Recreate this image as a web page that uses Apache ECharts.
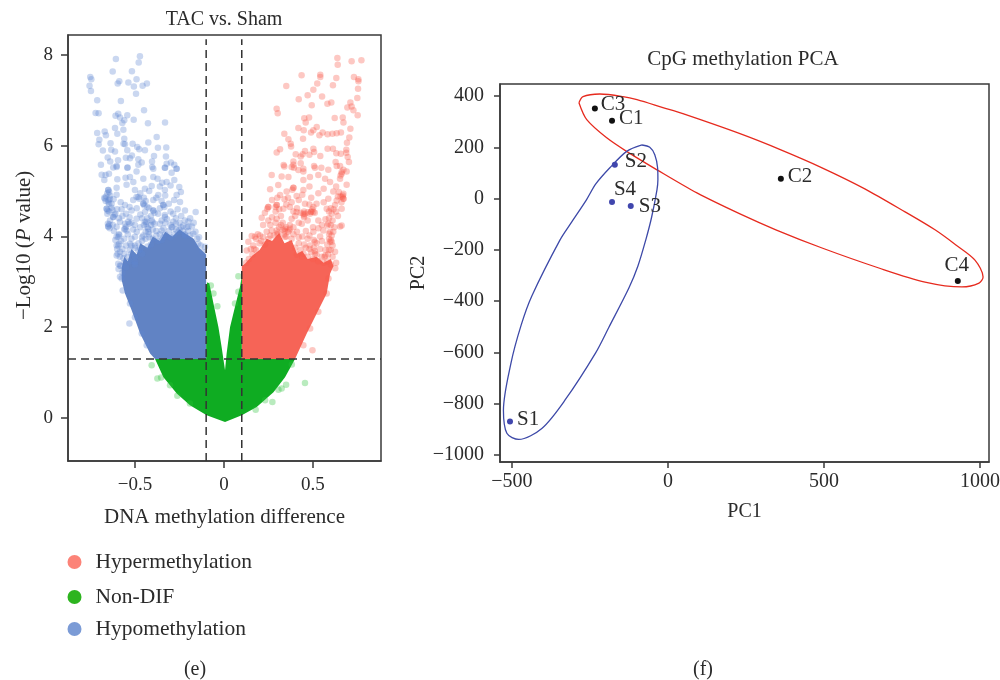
<!DOCTYPE html>
<html><head><meta charset="utf-8">
<style>html,body{margin:0;padding:0;background:#fff}#c{width:1000px;height:680px}</style>
<script src="https://cdn.jsdelivr.net/npm/echarts@6/dist/echarts.min.js"></script>
</head><body><div id="c"></div>
<script>
const volcanoXTicks=[-0.5,0,0.5];
const volcanoYTicks=[0,2,4,6,8];
const pcaXTicks=[-500,0,500,1000];
const pcaYTicks=[-1000,-800,-600,-400,-200,0,200,400];
const diffThresholds=[-0.1,0.1];
const pThreshold=1.3;

const hypoOutline=[[-0.1,1.3],[-0.387,1.3],[-0.415,1.42],[-0.471,1.86],[-0.518,2.37],[-0.556,2.74],[-0.574,3.03],[-0.575,3.3],[-0.56,3.55],[-0.54,3.45],[-0.52,3.72],[-0.49,3.6],[-0.47,3.85],[-0.43,3.75],[-0.4,4.0],[-0.36,3.9],[-0.33,4.1],[-0.29,4.0],[-0.25,4.15],[-0.21,4.05],[-0.17,3.95],[-0.14,3.75],[-0.1,3.6]];
const hyperOutline=[[0.1,1.3],[0.399,1.3],[0.465,1.86],[0.521,2.3],[0.577,2.74],[0.596,3.18],[0.615,3.35],[0.6,3.5],[0.56,3.42],[0.52,3.55],[0.47,3.5],[0.44,3.68],[0.41,3.62],[0.38,3.92],[0.34,3.85],[0.31,4.08],[0.27,3.9],[0.24,3.95],[0.2,3.7],[0.16,3.58],[0.118,3.4],[0.1,3.35]];
const nonDifOutline=[[-0.387,1.3],[-0.34,0.9],[-0.265,0.54],[-0.191,0.28],[-0.097,0.06],[0.006,-0.09],[0.1,0.06],[0.184,0.24],[0.278,0.57],[0.343,0.9],[0.399,1.3],[0.1,1.3],[0.101,3.14],[0.09,2.89],[0.062,2.45],[0.034,2.0],[0.015,1.42],[0.006,1.05],[-0.013,1.56],[-0.031,2.0],[-0.059,2.52],[-0.082,2.96],[-0.093,2.99],[-0.1,2.9],[-0.1,1.3]];

const hypoPoints=[[-0.472,7.97],[-0.607,7.91],[-0.479,7.83],[-0.625,7.63],[-0.517,7.64],[-0.751,7.51],[-0.745,7.46],[-0.491,7.46],[-0.588,7.42],[-0.597,7.37],[-0.537,7.39],[-0.433,7.37],[-0.457,7.32],[-0.506,7.3],[-0.755,7.32],[-0.747,7.2],[-0.494,7.14],[-0.712,7],[-0.579,6.98],[-0.449,6.78],[-0.721,6.72],[-0.704,6.71],[-0.594,6.7],[-0.609,6.66],[-0.543,6.67],[-0.584,6.62],[-0.56,6.56],[-0.507,6.57],[-0.571,6.5],[-0.427,6.49],[-0.331,6.51],[-0.612,6.39],[-0.565,6.35],[-0.67,6.31],[-0.712,6.28],[-0.599,6.26],[-0.663,6.23],[-0.378,6.19],[-0.56,6.15],[-0.7,6.13],[-0.564,6.04],[-0.513,6.04],[-0.637,6.05],[-0.704,6.03],[-0.425,6.07],[-0.556,6.03],[-0.487,5.97],[-0.476,5.92],[-0.371,5.95],[-0.324,5.96],[-0.68,5.89],[-0.633,5.91],[-0.612,5.87],[-0.543,5.9],[-0.444,5.9],[-0.517,5.78],[-0.653,5.74],[-0.393,5.77],[-0.326,5.76],[-0.551,5.73],[-0.528,5.72],[-0.595,5.68],[-0.481,5.7],[-0.639,5.65],[-0.462,5.63],[-0.404,5.65],[-0.298,5.63],[-0.691,5.58],[-0.322,5.6],[-0.279,5.58],[-0.603,5.55],[-0.541,5.52],[-0.622,5.52],[-0.331,5.51],[-0.403,5.53],[-0.481,5.58],[-0.266,5.49],
[-0.687,5.36],[-0.665,5.35],[-0.646,5.38],[-0.603,5.53],[-0.672,5.24],[-0.599,5.26],[-0.543,5.51],[-0.491,5.43],[-0.397,5.49],[-0.332,5.51],[-0.294,5.4],[-0.266,5.49],[-0.553,5.29],[-0.528,5.31],[-0.509,5.2],[-0.547,5.14],[-0.453,5.27],[-0.397,5.31],[-0.373,5.27],[-0.347,5.18],[-0.322,5.2],[-0.279,5.24],[-0.251,5.09],[-0.242,4.98],[-0.65,5.02],[-0.603,5.07],[-0.672,4.85],[-0.641,4.83],[-0.603,4.92],[-0.5,5.02],[-0.491,4.87],[-0.444,5.05],[-0.406,5.11],[-0.332,5.02],[-0.266,4.91],[-0.369,4.91],[-0.659,4.61],[-0.631,4.72],[-0.65,4.76],[-0.556,4.69],[-0.453,4.72],[-0.397,4.8],[-0.341,4.69],[-0.247,4.76],[-0.219,4.57],[-0.159,4.54],[-0.622,4.43],[-0.584,4.32],[-0.519,4.57],[-0.444,4.54],[-0.397,4.57],[-0.332,4.47],[-0.285,4.5],[-0.65,4.22],[-0.603,4.21],[-0.556,4.28],[-0.547,4.13],[-0.491,4.39],[-0.435,4.32],[-0.35,4.35],[-0.285,4.32],[-0.229,4.24],[-0.2,4.33],[-0.603,3.99],[-0.5,3.99],[-0.425,4.17],[-0.35,4.13],[-0.219,4.02],[-0.172,4.06],[-0.603,3.8],[-0.528,3.84],[-0.453,4.02],[-0.144,3.84],[-0.107,3.77],[-0.584,3.66],[-0.481,3.69],[-0.594,3.4],[-0.575,3.07],[-0.5,3.44],
[-0.584,3.11],[-0.569,2.81],[-0.528,2.52],[-0.5,2.22],[-0.462,1.86],[-0.434,1.6],[-0.531,2.08]];
const hypoMidPoints=[[-0.655,4.95],[-0.662,4.88],[-0.648,4.8],[-0.64,4.9],[-0.632,4.63],[-0.645,4.55],[-0.655,4.5],[-0.626,4.58],[-0.61,4.5],[-0.64,4.35],[-0.652,4.28],[-0.642,4.18],[-0.618,4.12],[-0.625,4.25],[-0.59,4.05],[-0.61,3.92],[-0.578,3.9],[-0.6,3.72],[-0.57,3.72],[-0.585,3.55],[-0.565,3.52],[-0.592,3.28],[-0.56,3.42],[-0.55,4.5],[-0.53,4.42],[-0.52,4.3],[-0.54,4.05],[-0.52,3.95],[-0.51,4.15],[-0.5,4.25],[-0.49,4.1],[-0.47,4.48],[-0.46,4.4],[-0.45,4.85],[-0.44,4.78],[-0.43,4.65],[-0.42,4.62],[-0.41,4.45],[-0.43,4.4],[-0.44,4.1],[-0.42,3.98],[-0.46,3.9],[-0.48,3.85],[-0.5,3.75],[-0.52,3.62],[-0.54,3.55],[-0.5,3.55],[-0.46,3.62],[-0.43,3.78],[-0.4,3.95],[-0.38,4.02],[-0.39,4.28],[-0.37,4.5],[-0.36,4.62],[-0.35,4.78],[-0.38,4.85],[-0.33,4.9],[-0.31,4.72],[-0.3,4.55],[-0.32,4.38],[-0.34,4.18],[-0.31,4.12],[-0.29,4.2],[-0.27,4.4],[-0.26,4.6],[-0.25,4.3],[-0.24,4.45],[-0.23,4.12],[-0.21,4.2],[-0.2,4.12],[-0.19,4.02],[-0.18,4.22],[-0.16,4.1],[-0.15,3.95],[-0.14,3.98],[-0.13,3.8],[-0.12,3.66],[-0.28,4.8],[-0.27,4.15],[-0.36,4.05],[-0.6,4.6],[-0.58,4.75],[-0.57,4.45],[-0.56,4.15],[-0.56,3.95],[-0.55,3.8],[-0.53,4.65],[-0.49,4.62],[-0.47,4.2],[-0.45,4.25],[-0.4,4.15],[-0.37,3.9],[-0.35,3.92],[-0.33,4.05],[-0.3,3.98],[-0.28,4.05],[-0.25,4.15],[-0.22,4.35],[-0.19,4.4],[-0.17,4.3],[-0.58,3.35],[-0.57,3.2],[-0.55,3.32],[-0.53,3.45],[-0.5,3.38],[-0.52,3.8],[-0.47,3.72],[-0.44,3.95],[-0.41,3.82],[-0.34,3.98],[-0.26,4.1],[-0.22,4.05],[-0.645,4.72],[-0.62,4.82],[-0.59,4.4],[-0.575,4.6],[-0.51,4.8],[-0.47,4.95],[-0.42,5.0],[-0.36,5.1],[-0.3,5.12]];
const hypoDarkPoints=[[-0.65,5.02],[-0.669,4.83],[-0.659,4.61],[-0.65,4.22],[-0.622,4.43],[-0.594,3.99],[-0.481,4.87],[-0.453,4.72],[-0.397,4.57],[-0.444,4.32],[-0.406,4.35],[-0.341,4.69],[-0.538,4.32],[-0.556,4.17],[-0.594,3.8],[-0.603,3.58],[-0.584,3.36],[-0.425,4.1],[-0.332,4.43],[-0.294,4.2],[-0.645,4.98],[-0.664,4.78],[-0.654,4.57],[-0.644,4.26],[-0.615,4.47],[-0.588,4.03],[-0.476,4.83],[-0.447,4.68],[-0.39,4.52],[-0.438,4.28],[-0.4,4.31],[-0.335,4.65],[-0.532,4.28],[-0.55,4.21],[-0.588,3.84],[-0.597,3.62],[-0.43,4.2],[-0.41,4.25],[-0.38,4.12],[-0.36,4.28],[-0.33,4.3],[-0.3,4.25],[-0.27,4.28],[-0.24,4.2],[-0.2,4.22],[-0.56,3.62],[-0.53,3.7],[-0.5,3.8],[-0.46,3.98],[-0.42,4.05]];

const hyperPoints=[[0.637,7.93],[0.717,7.86],[0.772,7.88],[0.639,7.78],[0.541,7.56],[0.541,7.51],[0.436,7.55],[0.73,7.51],[0.755,7.46],[0.755,7.42],[0.524,7.37],[0.631,7.49],[0.612,7.33],[0.35,7.31],[0.753,7.25],[0.502,7.23],[0.47,7.11],[0.42,7.02],[0.551,7.08],[0.749,7.05],[0.71,6.95],[0.581,6.92],[0.603,6.95],[0.493,6.89],[0.693,6.84],[0.717,6.86],[0.727,6.78],[0.296,6.81],[0.302,6.71],[0.751,6.67],[0.622,6.61],[0.667,6.62],[0.451,6.6],[0.478,6.62],[0.459,6.51],[0.671,6.51],[0.418,6.39],[0.448,6.34],[0.521,6.41],[0.502,6.34],[0.489,6.29],[0.71,6.37],[0.554,6.29],[0.536,6.23],[0.339,6.26],[0.582,6.25],[0.609,6.26],[0.633,6.27],[0.657,6.29],[0.704,6.18],[0.362,6.14],[0.444,6.15],[0.375,6.04],[0.377,5.98],[0.691,6.06],[0.315,5.92],[0.296,5.85],[0.455,5.88],[0.502,5.93],[0.506,5.86],[0.582,5.93],[0.612,5.93],[0.687,5.91],[0.687,5.84],[0.403,5.81],[0.442,5.81],[0.431,5.76],[0.48,5.8],[0.541,5.77],[0.631,5.83],[0.656,5.82],[0.695,5.75],[0.702,5.64],[0.39,5.65],[0.39,5.58],[0.335,5.57],[0.431,5.61],[0.506,5.55],[0.547,5.51],[0.627,5.64],[0.633,5.55],[0.652,5.55],[0.393,5.51],[0.446,5.49],[0.586,5.47],[0.671,5.47],
[0.339,5.54],[0.38,5.53],[0.511,5.51],[0.418,5.46],[0.446,5.43],[0.661,5.42],[0.689,5.43],[0.268,5.35],[0.324,5.32],[0.362,5.31],[0.483,5.31],[0.53,5.35],[0.568,5.27],[0.652,5.27],[0.446,5.24],[0.596,5.2],[0.689,5.14],[0.259,5.04],[0.305,5.13],[0.352,4.99],[0.39,5.07],[0.446,5.02],[0.614,4.99],[0.671,4.94],[0.408,4.89],[0.315,4.91],[0.586,4.83],[0.671,4.83],[0.633,4.79],[0.249,4.65],[0.296,4.69],[0.334,4.61],[0.455,4.72],[0.577,4.61],[0.624,4.69],[0.408,4.54],[0.502,4.54],[0.212,4.41],[0.249,4.35],[0.296,4.39],[0.38,4.39],[0.446,4.5],[0.53,4.35],[0.605,4.5],[0.661,4.61],[0.652,4.22],[0.558,4.13],[0.343,4.17],[0.437,4.28],[0.202,4.02],[0.268,4.13],[0.502,4.1],[0.614,4.1],[0.156,4.01],[0.137,3.88],[0.128,3.69],[0.483,3.8],[0.596,3.88],[0.511,3.62],[0.624,3.66],[0.165,3.8],[0.446,3.62],
[0.587,3.07],[0.577,2.74],[0.53,2.34],[0.484,1.97],[0.446,1.6],[0.497,1.49]];
const hyperMidPoints=[[0.645,4.98],[0.655,4.88],[0.64,4.88],[0.668,4.9],[0.66,4.75],[0.6,4.62],[0.59,4.55],[0.615,4.6],[0.63,4.55],[0.64,4.45],[0.61,4.35],[0.6,4.25],[0.59,4.4],[0.62,4.2],[0.605,4.02],[0.59,3.95],[0.61,3.8],[0.6,3.7],[0.58,3.82],[0.585,3.6],[0.61,3.55],[0.63,3.42],[0.625,3.3],[0.57,3.7],[0.55,3.55],[0.53,3.45],[0.55,3.9],[0.54,4.0],[0.52,3.85],[0.505,3.75],[0.49,3.65],[0.47,3.55],[0.46,3.75],[0.47,3.95],[0.48,4.02],[0.5,4.2],[0.46,4.12],[0.44,4.0],[0.42,3.85],[0.4,3.75],[0.41,4.1],[0.39,4.2],[0.42,4.3],[0.47,4.35],[0.51,4.52],[0.49,4.55],[0.47,4.53],[0.45,4.55],[0.43,4.52],[0.41,4.62],[0.39,4.55],[0.37,4.65],[0.35,4.7],[0.38,4.75],[0.42,4.8],[0.37,4.25],[0.36,4.1],[0.35,4.0],[0.33,4.3],[0.31,4.2],[0.3,4.05],[0.32,4.45],[0.29,4.55],[0.27,4.42],[0.26,4.25],[0.24,4.1],[0.22,3.98],[0.25,3.95],[0.2,3.85],[0.18,3.7],[0.16,3.6],[0.14,3.5],[0.125,3.42],[0.15,3.72],[0.19,4.05],[0.22,4.25],[0.23,4.52],[0.55,4.25],[0.53,4.18],[0.57,4.38],[0.56,4.75],[0.52,4.72],[0.49,4.85],[0.36,4.85],[0.34,4.82],[0.3,4.85],[0.27,4.8],[0.44,4.92],[0.53,4.95],[0.56,5.05],[0.48,5.1],[0.63,5.1],[0.58,3.45],[0.565,3.55],[0.52,3.6],[0.5,3.5],[0.44,3.55],[0.41,3.6],[0.35,4.2],[0.45,4.42],[0.4,4.45],[0.48,4.7],[0.31,4.6],[0.43,3.7],[0.38,3.95],[0.34,4.12],[0.28,4.02],[0.23,3.82],[0.54,3.72],[0.56,3.42],[0.6,3.38]];
const hyperDarkPoints=[[0.671,4.83],[0.489,4.54],[0.502,4.65],[0.605,3.88],[0.596,4.1],[0.661,5.38],[0.39,5.07],[0.296,4.69],[0.249,4.65],[0.174,3.99],[0.343,3.99],[0.296,4.13],[0.371,4.17],[0.455,4.5],[0.586,4.28],[0.511,3.88],[0.661,4.24],[0.665,4.87],[0.483,4.5],[0.496,4.6],[0.6,3.92],[0.59,4.06],[0.655,5.34],[0.384,5.03],[0.29,4.65],[0.243,4.61],[0.18,3.95],[0.337,4.04],[0.302,4.08],[0.365,4.13],[0.449,4.46],[0.58,4.24],[0.505,3.92],[0.32,4.25],[0.29,4.3],[0.26,4.02],[0.33,4.15],[0.39,4.05],[0.42,3.98],[0.45,3.82],[0.48,3.72],[0.51,3.68],[0.57,3.58],[0.59,3.7],[0.21,3.9],[0.17,3.72]];

const nonDifPoints=[[-0.406,1.16],[-0.374,0.87],[-0.353,0.89],[-0.262,0.49],[-0.303,0.72],[-0.191,0.32],[0.455,0.77],[0.349,0.73],[0.324,0.65],[0.306,0.62],[0.272,0.35],[0.178,0.18],[0.231,0.39],[0.381,1.18],[-0.074,2.92],[-0.037,2.46],[0.081,3.12],[0.062,2.52],[-0.059,2.74],[0.081,2.78]];

const controlNames=['C1','C2','C3','C4'];
const controlPC1=[-179,362,-234,929];
const controlPC2=[304,77,351,-322];
const shamNames=['S1','S2','S3','S4'];
const shamPC1=[-506,-170,-119,-179];
const shamPC2=[-870,132,-29,-13];
const controlEllipse=[[-285,374],[-272,398],[-218,408],[-144,398],[-99,386],[-16,355],[48,331],[231,253],[362,190],[494,120],[631,38],[760,-52],[856,-122],[923,-181],[984,-240],[1010,-306],[997,-330],[942,-345],[824,-326],[676,-271],[494,-193],[346,-122],[231,-60],[93,22],[-35,112],[-131,183],[-196,237],[-260,308],[-285,374]];
const shamEllipse=[[-83,209],[-58,200],[-42,171],[-33,120],[-32,73],[-35,34],[-52,-72],[-71,-162],[-96,-263],[-125,-349],[-189,-502],[-232,-603],[-330,-787],[-404,-897],[-478,-940],[-516,-916],[-527,-826],[-503,-643],[-470,-493],[-436,-380],[-346,-162],[-308,-91],[-261,-5],[-231,57],[-186,120],[-132,184],[-83,209]];

const FONT='"Liberation Serif", serif';
const INK='#2b2b2b';
const fmt=v=>String(v).replace('-','\u2212');
const axisBase=(ticks,min,max,size,margin)=>({type:'value',min,max,scale:true,splitLine:{show:false},
  axisLine:{show:true,onZero:false,lineStyle:{color:'#3a3a3a',width:1.5}},
  axisTick:{show:true,customValues:ticks,length:7,lineStyle:{color:'#3a3a3a',width:1.5}},
  axisLabel:{customValues:ticks,formatter:fmt,color:INK,fontFamily:FONT,fontSize:size,margin},
  nameTextStyle:{color:INK,fontFamily:FONT,fontSize:20},nameLocation:'middle'});
const polygon=(name,outline,color)=>({type:'custom',name,xAxisIndex:0,yAxisIndex:0,z:2,silent:true,
  data:outline,encode:{x:0,y:1},
  renderItem:(p,api)=>p.dataIndex!==0?null:{type:'polygon',shape:{points:outline.map(o=>api.coord(o))},style:{fill:color}}});
const cloud=(name,data,color)=>({type:'scatter',name,xAxisIndex:0,yAxisIndex:0,z:3,silent:true,data,
  symbolSize:6.5,itemStyle:{color,opacity:0.33}});
const guide=d=>({type:'line',xAxisIndex:0,yAxisIndex:0,z:5,silent:true,symbol:'none',data:d,
  lineStyle:{color:'#333',width:1.5,type:[8,5]}});
const pick=(names,a,b)=>names.map((n,i)=>({name:n,value:[a[i],b[i]]}));
const labelPlace={C1:{position:'right',offset:[0,-2]},C2:{position:'right',offset:[0,-2]},C3:{position:'right',offset:[-1,-4]},C4:{position:'top',offset:[-1,2]},
  S1:{position:'right',offset:[0,-2]},S2:{position:'right',offset:[3,-3]},S3:{position:'right',offset:[1,0]},S4:{position:'top',offset:[13,5]}};
const samples=(names,a,b,color)=>({type:'scatter',xAxisIndex:1,yAxisIndex:1,z:4,silent:true,symbolSize:6,itemStyle:{color,opacity:1},
  data:pick(names,a,b).map(d=>({...d,label:{show:true,...labelPlace[d.name]}})),
  label:{show:true,formatter:'{b}',color:INK,fontFamily:FONT,fontSize:21,distance:4}});
const ring=(d,color)=>({type:'line',xAxisIndex:1,yAxisIndex:1,z:3,silent:true,symbol:'none',smooth:0.3,data:d,lineStyle:{color,width:1.3}});
const legendAt=(name,color,top)=>({left:67.5,top,padding:0,orient:'vertical',selectedMode:false,itemWidth:14,itemHeight:14,
  textStyle:{color:INK,fontFamily:FONT,fontSize:21.5,padding:[0,0,0,9]},data:[{name,icon:'circle',itemStyle:{color,opacity:1}}]});
const cap=(text,left,top,size)=>({text,left,top,padding:0,textAlign:'center',textStyle:{color:INK,fontFamily:FONT,fontSize:size,fontWeight:'normal'}});

const volY=axisBase(volcanoYTicks,-0.947,8.436,19,15);
volY.name='{a|\u00a0\u2212Log10 (}{i|P}{a| value)}';volY.nameGap=33;
volY.nameTextStyle.rich={a:{fontFamily:FONT,fontSize:21,color:INK},i:{fontFamily:FONT,fontSize:21,fontStyle:'italic',color:INK}};
const volX=axisBase(volcanoXTicks,-0.876,0.882,19,15);volX.name='DNA methylation difference';volX.nameGap=46;volX.nameTextStyle.fontSize=21;
const pcaX=axisBase(pcaXTicks,-538,1029,20,10);pcaX.name='PC1';pcaX.nameGap=40;pcaX.axisTick.length=6;
const pcaY=axisBase(pcaYTicks,-1028,447,20,16);pcaY.name='PC2';pcaY.nameGap=68;pcaY.axisTick.length=6;

const chart=echarts.init(document.getElementById('c'),null,{renderer:'canvas'});
chart.setOption({animation:false,backgroundColor:'#fff',
  title:[cap('TAC vs. Sham',224,10,20),cap('CpG methylation PCA',743,49,21),cap('(e)',195,659.5,20),cap('(f)',703,659.5,20)],
  legend:[legendAt('Hypermethylation','#fc8378',551),legendAt('Non-DIF','#2db41f',586),legendAt('Hypomethylation','#7b9bd6',618)],
  grid:[{left:68,top:35,width:313,height:426,show:true,outerBoundsMode:'none',borderColor:'#3a3a3a',borderWidth:1.5,backgroundColor:'transparent'},
        {left:500,top:84,width:489,height:378,show:true,outerBoundsMode:'none',borderColor:'#3a3a3a',borderWidth:1.5,backgroundColor:'transparent'}],
  xAxis:[volX,{...pcaX,gridIndex:1}],
  yAxis:[volY,{...pcaY,gridIndex:1}],
  series:[
    polygon('Hypomethylation',hypoOutline,'#6183c4'),
    polygon('Hypermethylation',hyperOutline,'#f66457'),
    polygon('Non-DIF',nonDifOutline,'#0fac22'),
    cloud('Hypomethylation',hypoPoints.concat(hypoMidPoints,hypoDarkPoints),'#5f86d2'),
    cloud('Hypermethylation',hyperPoints.concat(hyperMidPoints,hyperDarkPoints),'#f8574a'),
    cloud('Non-DIF',nonDifPoints,'#2cc23a'),
    guide([[diffThresholds[0],-0.947],[diffThresholds[0],8.34]]),
    guide([[diffThresholds[1],-0.947],[diffThresholds[1],8.34]]),
    guide([[-0.876,pThreshold],[0.882,pThreshold]]),
    ring(controlEllipse,'#e62a1e'),
    ring(shamEllipse,'#3d49a8'),
    samples(controlNames,controlPC1,controlPC2,'#111'),
    samples(shamNames,shamPC1,shamPC2,'#4046ad')
  ]});
</script></body></html>
